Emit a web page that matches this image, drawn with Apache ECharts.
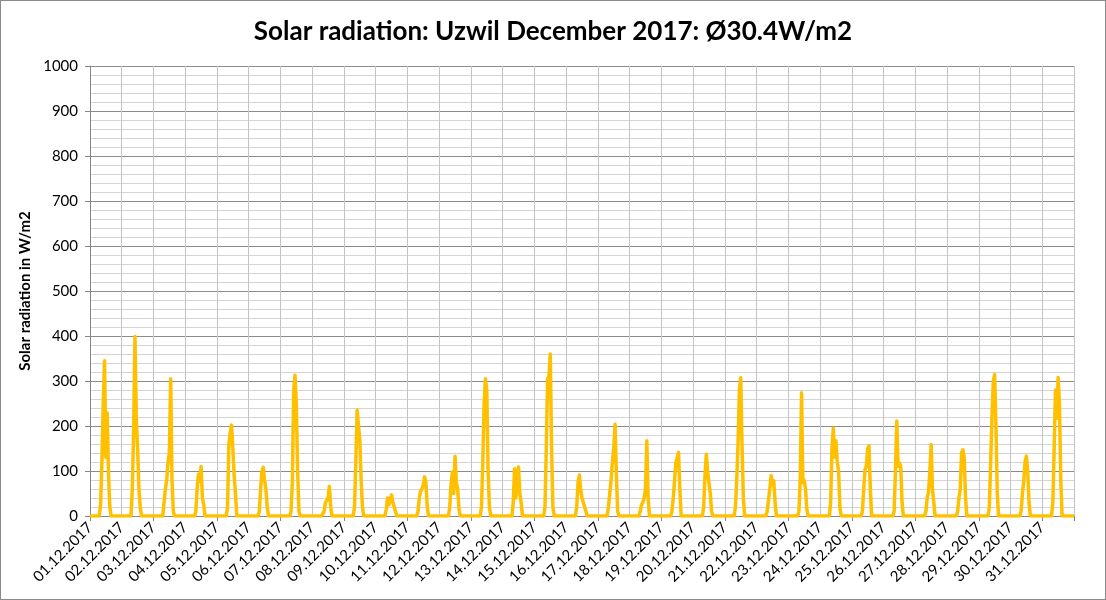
<!DOCTYPE html>
<html>
<head>
<meta charset="utf-8">
<script src="https://cdn.jsdelivr.net/npm/echarts@6/dist/echarts.min.js"></script>
<style>
  html, body { margin: 0; padding: 0; background: #fff; }
  #chart { width: 1106px; height: 600px; box-sizing: border-box; border: 1px solid #8a8a8a; }
</style>
</head>
<body>
<div id="chart"></div>
<script>
// tick labels, one per day
var dayLabels = [];
for (var d = 1; d <= 31; d++) {
	dayLabels.push((d < 10 ? '0' + d : '' + d) + '.12.2017');
}

// hours of the day that carry readings (night hours are 0)
var hourSlots = [7, 8, 9, 10, 11, 12, 13, 14, 15, 16];

// W/m2 per hour slot, one row per day
var radiation = [
	[0, 25, 120, 250, 345, 130, 229, 90, 20, 0],   // 01.12
	[0, 60, 190, 399, 220, 150, 60, 20, 0, 0],     // 02.12
	[0, 0, 60, 80, 120, 140, 305, 80, 10, 0],      // 03.12
	[0, 10, 60, 93, 77, 110, 40, 25, 0, 0],        // 04.12
	[0, 20, 160, 185, 202, 150, 90, 50, 0, 0],     // 05.12
	[0, 10, 60, 100, 108, 80, 60, 20, 0, 0],       // 06.12
	[0, 10, 74, 280, 313, 250, 100, 10, 0, 0],     // 07.12
	[0, 0, 10, 30, 30, 40, 66, 20, 0, 0],          // 08.12
	[0, 20, 120, 235, 200, 170, 80, 20, 0, 0],     // 09.12
	[0, 15, 40, 25, 35, 47, 30, 20, 10, 0],        // 10.12
	[0, 10, 40, 55, 60, 70, 87, 75, 20, 0],        // 11.12
	[0, 20, 70, 98, 50, 133, 75, 60, 15, 0],       // 12.12
	[0, 20, 120, 250, 305, 280, 100, 20, 0, 0],    // 13.12
	[0, 30, 105, 40, 90, 109, 50, 30, 0, 0],       // 14.12
	[0, 20, 150, 305, 310, 360, 150, 20, 0, 0],    // 15.12
	[0, 20, 74, 91, 60, 40, 30, 20, 10, 0],        // 16.12
	[0, 20, 50, 80, 120, 150, 204, 90, 10, 0],     // 17.12
	[0, 10, 25, 30, 40, 60, 167, 40, 0, 0],        // 18.12
	[0, 10, 40, 80, 120, 130, 141, 60, 0, 0],      // 19.12
	[0, 20, 90, 137, 100, 74, 50, 10, 0, 0],       // 20.12
	[0, 20, 80, 163, 280, 307, 159, 40, 0, 0],     // 21.12
	[0, 10, 35, 60, 90, 70, 78, 30, 0, 0],         // 22.12
	[0, 10, 80, 274, 74, 80, 60, 15, 0, 0],        // 23.12
	[0, 30, 150, 195, 131, 167, 120, 100, 20, 0],  // 24.12
	[0, 10, 60, 104, 110, 150, 156, 60, 0, 0],     // 25.12
	[0, 10, 100, 211, 110, 118, 110, 30, 0, 0],    // 26.12
	[0, 10, 40, 52, 100, 159, 60, 30, 0, 0],       // 27.12
	[0, 10, 40, 59, 141, 147, 130, 40, 0, 0],      // 28.12
	[0, 20, 120, 222, 300, 314, 200, 50, 0, 0],    // 29.12
	[0, 10, 50, 77, 120, 133, 100, 30, 0, 0],      // 30.12
	[0, 30, 150, 280, 218, 308, 250, 80, 0, 0]     // 31.12
];

// x = hours since 01.12.2017 00:00
var points = [[0, 0]];
for (var i = 0; i < radiation.length; i++) {
	for (var j = 0; j < hourSlots.length; j++) {
		points.push([i * 24 + hourSlots[j], radiation[i][j]]);
	}
}
points.push([radiation.length * 24, 0]);

var font = 'Lato, "Liberation Sans", sans-serif';
var myChart = echarts.init(document.getElementById('chart'));

var option = {
	animation: false,
	title: {
		text: 'Solar radiation: Uzwil December 2017: Ø30.4W/m2',
		left: 'center',
		top: 13,
		textStyle: { fontFamily: font, fontSize: 26, fontWeight: 'bold', color: '#000' }
	},
	grid: { left: 89, right: 31, top: 65, bottom: 83 },
	xAxis: [{
		type: 'value',
		min: 0,
		max: 744,
		interval: 24,
		axisLine: { show: true, lineStyle: { color: '#868686', width: 1 } },
		axisTick: { show: false },
		axisLabel: {
			rotate: 45,
			margin: 9,
			fontFamily: font,
			fontSize: 15,
			color: '#000',
			formatter: function (v) { return dayLabels[v / 24] || ''; }
		},
		splitLine: { show: true, lineStyle: { color: '#c4c4c4', width: 1 } }
	}, {
		// tick marks every second day
		type: 'value',
		position: 'bottom',
		min: 0,
		max: 744,
		interval: 48,
		axisLine: { show: false },
		axisTick: { show: true, length: 5, lineStyle: { color: '#868686' } },
		axisLabel: { show: false },
		splitLine: { show: false }
	}],
	yAxis: {
		type: 'value',
		min: 0,
		max: 1000,
		interval: 100,
		name: 'Solar radiation in W/m2',
		nameLocation: 'middle',
		nameGap: 49,
		nameTextStyle: { fontFamily: font, fontSize: 15, fontWeight: 'bold', color: '#000' },
		axisLine: { show: true, lineStyle: { color: '#868686', width: 1 } },
		axisTick: { show: true, length: 5, lineStyle: { color: '#868686' } },
		axisLabel: {
			fontFamily: font, fontSize: 15, color: '#000', margin: 12,
			formatter: function (v) { return '' + v; }
		},
		splitLine: { show: true, lineStyle: { color: '#8c8c8c', width: 1 } },
		minorTick: { show: false, splitNumber: 5 },
		minorSplitLine: { show: true, lineStyle: { color: '#d4d4d4', width: 1 } }
	},
	series: [{
		type: 'line',
		xAxisIndex: 0,
		data: points,
		showSymbol: false,
		smooth: false,
		lineStyle: { color: '#FFC000', width: 3.5, join: 'round' },
		itemStyle: { color: '#FFC000' }
	}]
};

myChart.setOption(option);
</script>
</body>
</html>
